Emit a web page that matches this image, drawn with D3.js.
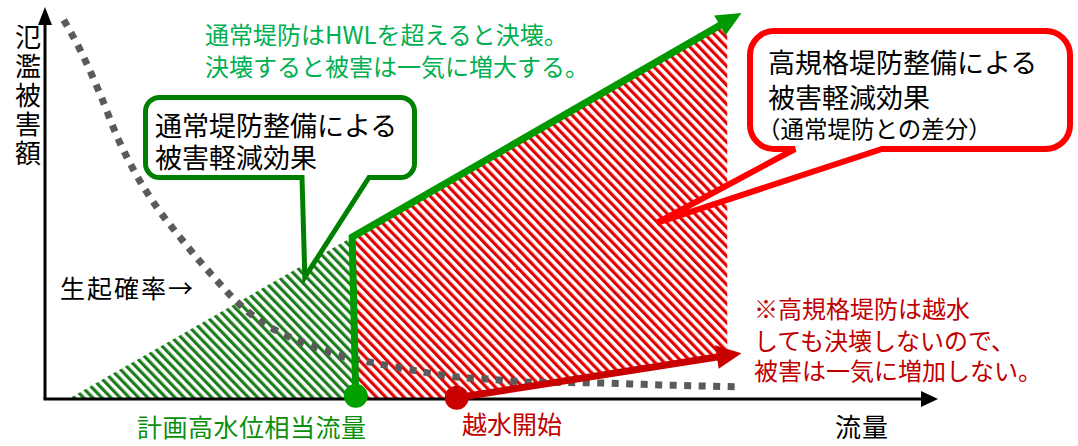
<!DOCTYPE html>
<html>
<head>
<meta charset="utf-8">
<script src="https://cdn.jsdelivr.net/npm/d3@7"></script>
<style>
  body { margin: 0; background: #fff; }
  text { font-family: "Noto Sans CJK JP", "Noto Sans", sans-serif; }
</style>
</head>
<body>
<svg id="chart" width="1078" height="446"></svg>
<script>
// values, flow (q) and damage (d) on 0-100 axis units
var greenArea = [[2.6, 0], [34.4, 41.3], [34.7, 0]];
var redArea = [[34.4, 41.3], [76.4, 96.2], [76.4, 11.3], [46.1, 0.2], [34.7, 0]];
var normalLevee = [[34.8, 0.8], [34.4, 41.3], [78.0, 98.5]];
var superLevee = [[46.1, 0.3], [78.0, 11.7]];
var probability = [
  [2.1, 96.7], [4.1, 88.3], [6.2, 77.6], [8.1, 66.8], [10.1, 57.7], [12.5, 49.0],
  [15.1, 41.3], [18.5, 32.1], [22.0, 23.7], [24.3, 19.6], [27.4, 15.8], [30.5, 13.0],
  [33.6, 10.7], [36.4, 9.4], [39.8, 7.9], [43.1, 6.6], [46.1, 5.6], [49.5, 5.1],
  [54.0, 4.3], [61.8, 4.1], [68.9, 3.6], [77.5, 3.1]
];
var points = [[34.8, 0.8], [46.1, 0.3]];
var greenTip = [29.1, 31.1];
var redTip = [68.5, 44.9];

var yTitle = '氾濫被害額';
var xTitle = '流量';
var hwlLabel = '計画高水位相当流量';
var overflowLabel = '越水開始';
var probLabel = '生起確率→';
var hwlNote = ['通常堤防はHWLを超えると決壊。', '決壊すると被害は一気に増大する。'];
var greenCallout = ['通常堤防整備による', '被害軽減効果'];
var redCallout = ['高規格堤防整備による', '被害軽減効果', '（通常堤防との差分）'];
var redNote = ['※高規格堤防は越水', 'しても決壊しないので、', '被害は一気に増加しない。'];

var svg = d3.select('#chart');
var x = d3.scaleLinear().domain([0, 100]).range([45, 938]);
var y = d3.scaleLinear().domain([0, 100]).range([399, 7]);

var defs = svg.append('defs');
function hatch(id, color) {
  var p = defs.append('pattern')
    .attr('id', id)
    .attr('patternUnits', 'userSpaceOnUse')
    .attr('width', 6.6).attr('height', 20)
    .attr('patternTransform', 'rotate(-44)');
  p.append('rect').attr('width', 6.6).attr('height', 20).attr('fill', '#fff');
  p.append('rect').attr('width', 3.2).attr('height', 20).attr('fill', color);
}
hatch('hatchGreen', '#1d7d1d');
hatch('hatchRed', '#e40000');

var line = d3.line().x(function(d) { return x(d[0]); }).y(function(d) { return y(d[1]); });

svg.append('path').datum(greenArea)
  .attr('d', function(d) { return line(d) + 'Z'; })
  .attr('fill', 'url(#hatchGreen)');
svg.append('path').datum(redArea)
  .attr('d', function(d) { return line(d) + 'Z'; })
  .attr('fill', 'url(#hatchRed)');

// axes
var axisG = svg.append('g');
axisG.append('line')
  .attr('x1', x(0)).attr('y1', y(0)).attr('x2', x(0)).attr('y2', y(100) + 16)
  .attr('stroke', '#000').attr('stroke-width', 3);
axisG.append('path')
  .attr('d', 'M' + x(0) + ',' + y(100) + 'L' + (x(0) - 7) + ',' + (y(100) + 18) + 'L' + (x(0) + 7) + ',' + (y(100) + 18) + 'Z')
  .attr('fill', '#000');
axisG.append('line')
  .attr('x1', x(0) - 1.5).attr('y1', y(0)).attr('x2', x(100) - 16).attr('y2', y(0))
  .attr('stroke', '#000').attr('stroke-width', 3);
axisG.append('path')
  .attr('d', 'M' + x(100) + ',' + y(0) + 'L' + (x(100) - 17) + ',' + (y(0) - 8) + 'L' + (x(100) - 17) + ',' + (y(0) + 8) + 'Z')
  .attr('fill', '#000');

// probability curve
svg.append('path').datum(probability)
  .attr('d', d3.line().x(function(d) { return x(d[0]); }).y(function(d) { return y(d[1]); }).curve(d3.curveMonotoneX))
  .attr('fill', 'none')
  .attr('stroke', '#5a5a5a')
  .attr('stroke-width', 7)
  .attr('stroke-dasharray', '7,7.5');

function arrowLine(pts, color, w, headLen, headW) {
  var p = pts.map(function(d) { return [x(d[0]), y(d[1])]; });
  var n = p.length, a = p[n - 2], b = p[n - 1];
  var dx = b[0] - a[0], dy = b[1] - a[1], L = Math.hypot(dx, dy);
  var ux = dx / L, uy = dy / L;
  var base = [b[0] - ux * headLen, b[1] - uy * headLen];
  var shaft = p.slice(0, n - 1).concat([[base[0] + ux * 2, base[1] + uy * 2]]);
  svg.append('path')
    .attr('d', d3.line()(shaft))
    .attr('fill', 'none')
    .attr('stroke', color)
    .attr('stroke-width', w)
    .attr('stroke-linejoin', 'miter');
  var px = -uy * headW / 2, py = ux * headW / 2;
  svg.append('path')
    .attr('d', 'M' + b[0] + ',' + b[1] + 'L' + (base[0] + px) + ',' + (base[1] + py) + 'L' + (base[0] - px) + ',' + (base[1] - py) + 'Z')
    .attr('fill', color);
}
arrowLine(normalLevee, '#009a00', 7, 25, 23);
arrowLine(superLevee, '#c80000', 7, 25, 24);

svg.selectAll('circle.pt').data(points).enter().append('circle')
  .attr('class', 'pt')
  .attr('cx', function(d) { return x(d[0]); })
  .attr('cy', function(d) { return y(d[1]); })
  .attr('r', 12)
  .attr('fill', function(d, i) { return i === 0 ? '#00a000' : '#c80000'; });

// callouts
function calloutPath(x0, y0, x1, y1, r, pa, pb, tip) {
  return 'M' + (x0 + r) + ',' + y0 + 'H' + (x1 - r) +
    'A' + r + ',' + r + ' 0 0 1 ' + x1 + ',' + (y0 + r) + 'V' + (y1 - r) +
    'A' + r + ',' + r + ' 0 0 1 ' + (x1 - r) + ',' + y1 + 'H' + pb +
    'L' + tip[0] + ',' + tip[1] + 'L' + pa + ',' + y1 + 'H' + (x0 + r) +
    'A' + r + ',' + r + ' 0 0 1 ' + x0 + ',' + (y1 - r) + 'V' + (y0 + r) +
    'A' + r + ',' + r + ' 0 0 1 ' + (x0 + r) + ',' + y0 + 'Z';
}
svg.append('path')
  .attr('d', calloutPath(145.5, 97.5, 414.5, 177.5, 14, 302, 369, [x(greenTip[0]), y(greenTip[1])]))
  .attr('fill', '#fff').attr('stroke', '#008000').attr('stroke-width', 5);
svg.append('path')
  .attr('d', calloutPath(750, 31, 1070, 149, 24, 795, 882, [x(redTip[0]), y(redTip[1])]))
  .attr('fill', '#fff').attr('stroke', '#ff0000').attr('stroke-width', 6);

// one text element per block, one tspan per line
function block(arr, xs, ys, size, color, spacing) {
  var t = svg.append('text')
    .attr('fill', color)
    .attr('letter-spacing', spacing || 0);
  arr.forEach(function(s, i) {
    t.append('tspan')
      .attr('x', Array.isArray(xs) ? xs[i] : xs)
      .attr('y', ys[i])
      .attr('dominant-baseline', 'central')
      .attr('font-size', (Array.isArray(size) ? size[i] : size) + 'px')
      .text(s);
  });
}
block(greenCallout, 155, [124.5, 156.5], 27, '#000');
block(redCallout, [768, 768, 757], [61.5, 96, 127.5], [27, 27, 23.5], '#000');
block(hwlNote, 205, [33, 65], 24, '#00b050');
block(redNote, 754, [307, 339, 369], 24, '#c00000');
block([probLabel], 60, [287], 25, '#000', 2);
block([hwlLabel], 137, [426], 25, '#0a8f0a', 0.5);
block([overflowLabel], 462, [423], 25, '#c00000');
block([xTitle], 835, [425], 26, '#000', 1);

// vertical axis title
svg.append('text')
  .attr('x', 28).attr('y', 24)
  .attr('font-size', '26px')
  .attr('letter-spacing', 3)
  .style('writing-mode', 'vertical-rl')
  .text(yTitle);
</script>
</body>
</html>
